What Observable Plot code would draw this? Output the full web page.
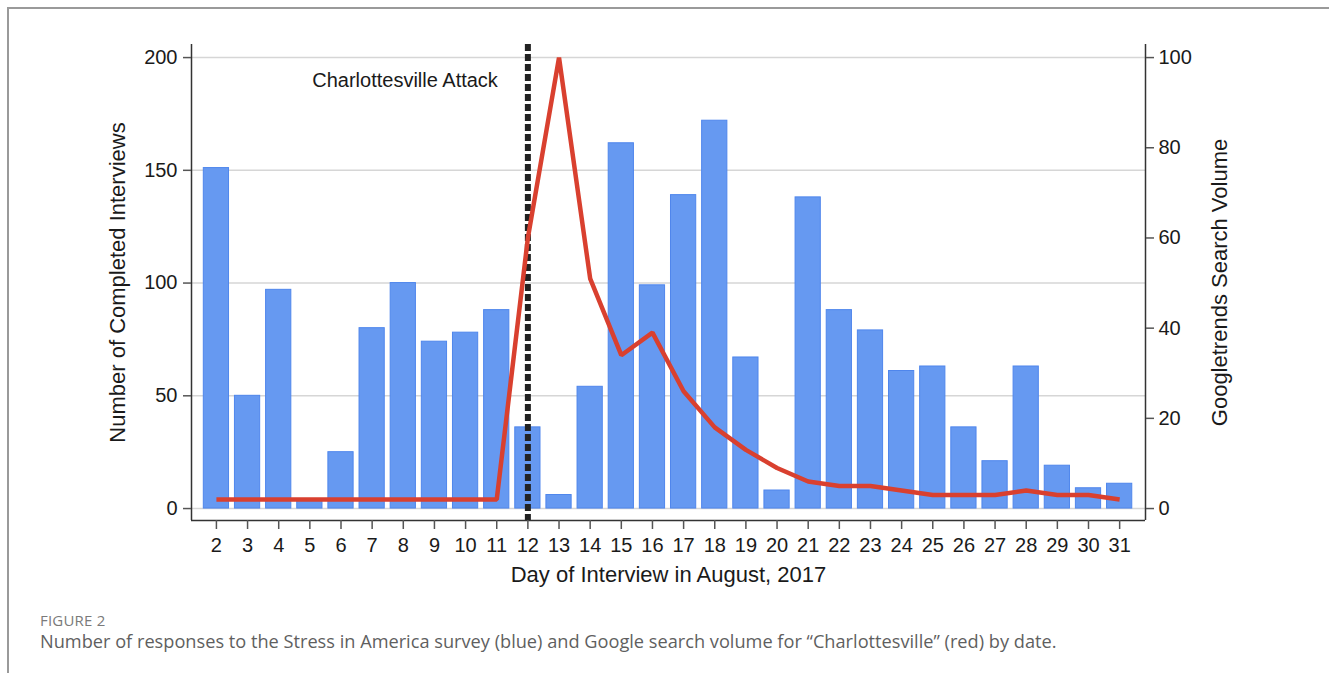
<!DOCTYPE html>
<html>
<head>
<meta charset="utf-8">
<script src="https://cdn.jsdelivr.net/npm/d3@7"></script>
<script src="https://cdn.jsdelivr.net/npm/@observablehq/plot@0.6"></script>
<style>
  html, body { margin: 0; padding: 0; background: #fff; overflow: hidden; }
  #page { position: relative; width: 1329px; height: 673px; }
  #box { position: absolute; left: 7px; top: 7px; width: 1400px; height: 700px;
         border-left: 2px solid #9a9a9a; border-top: 2px solid #9a9a9a; }
  #chart { position: absolute; left: 0; top: 0; }
  .fig-label { position: absolute; left: 40px; top: 610px; font: 15px "Open Sans", sans-serif;
               color: #7a7a7a; letter-spacing: 0.2px; }
  .fig-caption { position: absolute; left: 40px; top: 629px; font: 18.2px "Open Sans", sans-serif;
                 color: #5f5f5f; white-space: nowrap; }
</style>
</head>
<body>
<div id="page">
  <div id="box"></div>
  <div id="chart"></div>
  <div class="fig-label">FIGURE 2</div>
  <div class="fig-caption">Number of responses to the Stress in America survey (blue) and Google search volume for “Charlottesville” (red) by date.</div>
</div>
<script>
// Day of the month (August 2017)
const days = [2, 3, 4, 5, 6, 7, 8, 9, 10, 11, 12, 13, 14, 15, 16, 17, 18, 19, 20, 21, 22, 23, 24, 25, 26, 27, 28, 29, 30, 31];
// Completed interviews per day (left axis)
const interviews = [151, 50, 97, 4, 25, 80, 100, 74, 78, 88, 36, 6, 54, 162, 99, 139, 172, 67, 8, 138, 88, 79, 61, 63, 36, 21, 63, 19, 9, 11];
// Google Trends search volume for "Charlottesville" (right axis, 0-100)
const searchVolume = [2, 2, 2, 2, 2, 2, 2, 2, 2, 2, 60, 100, 51, 34, 39, 26, 18, 13, 9, 6, 5, 5, 4, 3, 3, 3, 4, 3, 3, 2];

const leftTicks = [0, 50, 100, 150, 200];
const rightTicks = [0, 20, 40, 60, 80, 100];
const attackDay = 12;
const attackLabel = "Charlottesville Attack";

// The right axis (0-100) shares the frame with the left axis (0-200)
const rightToLeft = 200 / 100;

const rows = days.map((day, i) => ({day, count: interviews[i], search: searchVolume[i]}));

const xDomain = [1.2, 31.83];
const yDomain = [-5.3, 205.8];
const barWidth = 0.81;
const axisColor = "#333";
const font = "'Liberation Sans', Arial, Helvetica, sans-serif";

const chart = Plot.plot({
  width: 1329,
  height: 600,
  marginLeft: 191,
  marginRight: 184,
  marginTop: 44,
  marginBottom: 80,
  style: {fontFamily: font, fontSize: "20px", color: "#1a1a1a", background: "transparent"},
  x: {type: "linear", domain: xDomain},
  y: {domain: yDomain},
  marks: [
    Plot.gridY(leftTicks, {stroke: "#d6d6d6", strokeOpacity: 1, strokeWidth: 1.5}),
    Plot.rectY(rows, {
      x1: d => d.day - barWidth / 2,
      x2: d => d.day + barWidth / 2,
      y1: 0,
      y2: "count",
      fill: "#6699f1",
      stroke: "#4f86ec",
      strokeWidth: 1
    }),
    Plot.ruleX([attackDay], {stroke: "#222", strokeWidth: 6, strokeDasharray: "7,3"}),
    Plot.line(rows, {
      x: "day",
      y: d => d.search * rightToLeft,
      stroke: "#d9402f",
      strokeWidth: 4.5,
      strokeLinejoin: "miter",
      strokeLinecap: "butt"
    }),
    // plot region borders (left axis, right axis, bottom)
    Plot.ruleX([xDomain[0], xDomain[1]], {stroke: axisColor, strokeWidth: 1.5}),
    Plot.ruleY([yDomain[0]], {stroke: axisColor, strokeWidth: 1.5}),
    Plot.axisY({
      anchor: "left", ticks: leftTicks, tickSize: 8, tickPadding: 6,
      stroke: "#555", strokeWidth: 1.5, fontSize: 20, label: null
    }),
    Plot.axisY({
      anchor: "right", ticks: rightTicks.map(v => v * rightToLeft), tickFormat: d => d / rightToLeft,
      tickSize: 8, tickPadding: 5, stroke: "#555", strokeWidth: 1.5, fontSize: 20, label: null
    }),
    Plot.axisX({
      anchor: "bottom", ticks: days, tickFormat: d => d, tickSize: 9, tickPadding: 8,
      stroke: "#555", strokeWidth: 1.5, fontSize: 20, label: null
    }),
    Plot.text([attackLabel], {
      x: attackDay, y: 190, text: d => d, textAnchor: "end", dx: -30,
      fontSize: 20, fill: "#1a1a1a"
    }),
    Plot.text(["Number of Completed Interviews"], {
      frameAnchor: "left", text: d => d, rotate: -90, dx: -74,
      textAnchor: "middle", lineAnchor: "middle", fontSize: 22, fill: "#1a1a1a"
    }),
    Plot.text(["Googletrends Search Volume"], {
      frameAnchor: "right", text: d => d, rotate: -90, dx: 74,
      textAnchor: "middle", lineAnchor: "middle", fontSize: 22, fill: "#1a1a1a"
    }),
    Plot.text(["Day of Interview in August, 2017"], {
      frameAnchor: "bottom", text: d => d, dy: 54,
      textAnchor: "middle", lineAnchor: "middle", fontSize: 22, fill: "#1a1a1a"
    })
  ]
});

document.getElementById("chart").appendChild(chart);
</script>
</body>
</html>
